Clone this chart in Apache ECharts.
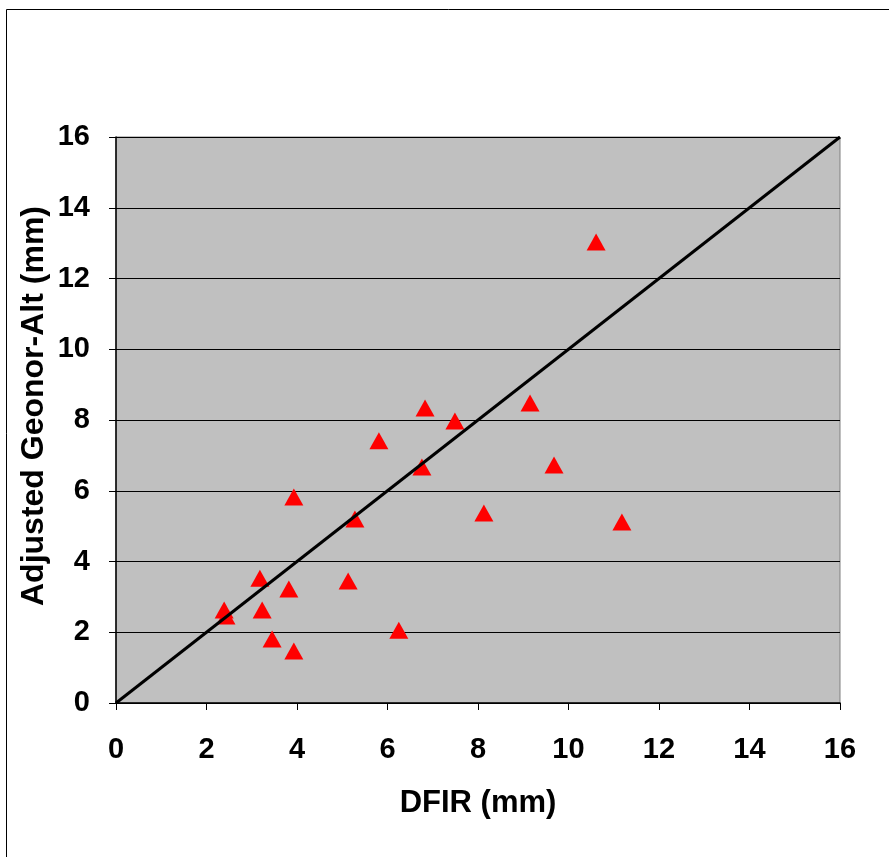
<!DOCTYPE html>
<html><head><meta charset="utf-8">
<script src="https://cdn.jsdelivr.net/npm/echarts@6/dist/echarts.min.js"></script>
<style>html,body{margin:0;padding:0;background:#fff}#c{width:889px;height:857px}</style>
</head><body><div id="c"></div>
<script>
const dfir = [10.61, 9.15, 6.83, 7.49, 5.81, 6.76, 9.68, 3.93, 5.28, 8.13, 11.18, 3.18, 3.82, 5.13, 2.39, 2.43, 3.23, 3.45, 3.93, 6.25];
const geonor = [13.03, 8.48, 8.34, 7.97, 7.41, 6.67, 6.73, 5.82, 5.20, 5.37, 5.12, 3.53, 3.22, 3.45, 2.63, 2.46, 2.63, 1.81, 1.47, 2.06];
const oneToOneX = [0, 16];
const oneToOneY = [0, 16];
const xTitle = 'DFIR (mm)';
const yTitle = 'Adjusted Geonor-Alt (mm)';

const font = "'Liberation Sans', Arial, sans-serif";
const chart = echarts.init(document.getElementById('c'));
chart.setOption({
  animation: false,
  backgroundColor: '#ffffff',
  graphic: [{type:'rect', left:4, top:7, shape:{width:900, height:900}, style:{fill:'none', stroke:'#000', lineWidth:1}, z:-10}],
  grid: {left:116, right:49, top:137, bottom:154, show:true, backgroundColor:'#C0C0C0', borderColor:'#808080', borderWidth:1},
  xAxis: {
    type:'value', min:0, max:16, interval:2,
    name: xTitle, nameLocation:'middle', nameGap:85, nameMoveOverlap:false,
    nameTextStyle:{fontFamily:font, fontWeight:'bold', fontSize:31, color:'#000'},
    axisLine:{show:true, onZero:false, lineStyle:{color:'#000', width:1.5}},
    axisTick:{show:true, inside:false, length:7, lineStyle:{color:'#000'}},
    axisLabel:{fontFamily:font, fontWeight:'bold', fontSize:29, color:'#000', margin:32},
    splitLine:{show:false}
  },
  yAxis: {
    type:'value', min:0, max:16, interval:2,
    name: yTitle, nameLocation:'middle', nameGap:66, nameRotate:90, nameMoveOverlap:false,
    nameTextStyle:{fontFamily:font, fontWeight:'bold', fontSize:32, color:'#000', padding:[0,0,0,28]},
    axisLine:{show:true, onZero:false, lineStyle:{color:'#000', width:1.5}},
    axisTick:{show:true, inside:false, length:7, lineStyle:{color:'#000'}},
    axisLabel:{fontFamily:font, fontWeight:'bold', fontSize:29, color:'#000', margin:26},
    splitLine:{show:true, lineStyle:{color:'#000', width:1}}
  },
  series: [
    {type:'scatter', data: dfir.map((x,i)=>[x, geonor[i]]), symbol:'triangle', symbolSize:[19,17],
     itemStyle:{color:'#FF0000', opacity:1}, z:2},
    {type:'line', data: oneToOneX.map((x,i)=>[x, oneToOneY[i]]), showSymbol:false, symbol:'none',
     lineStyle:{color:'#000', width:3}, z:3}
  ]
});
</script></body></html>
